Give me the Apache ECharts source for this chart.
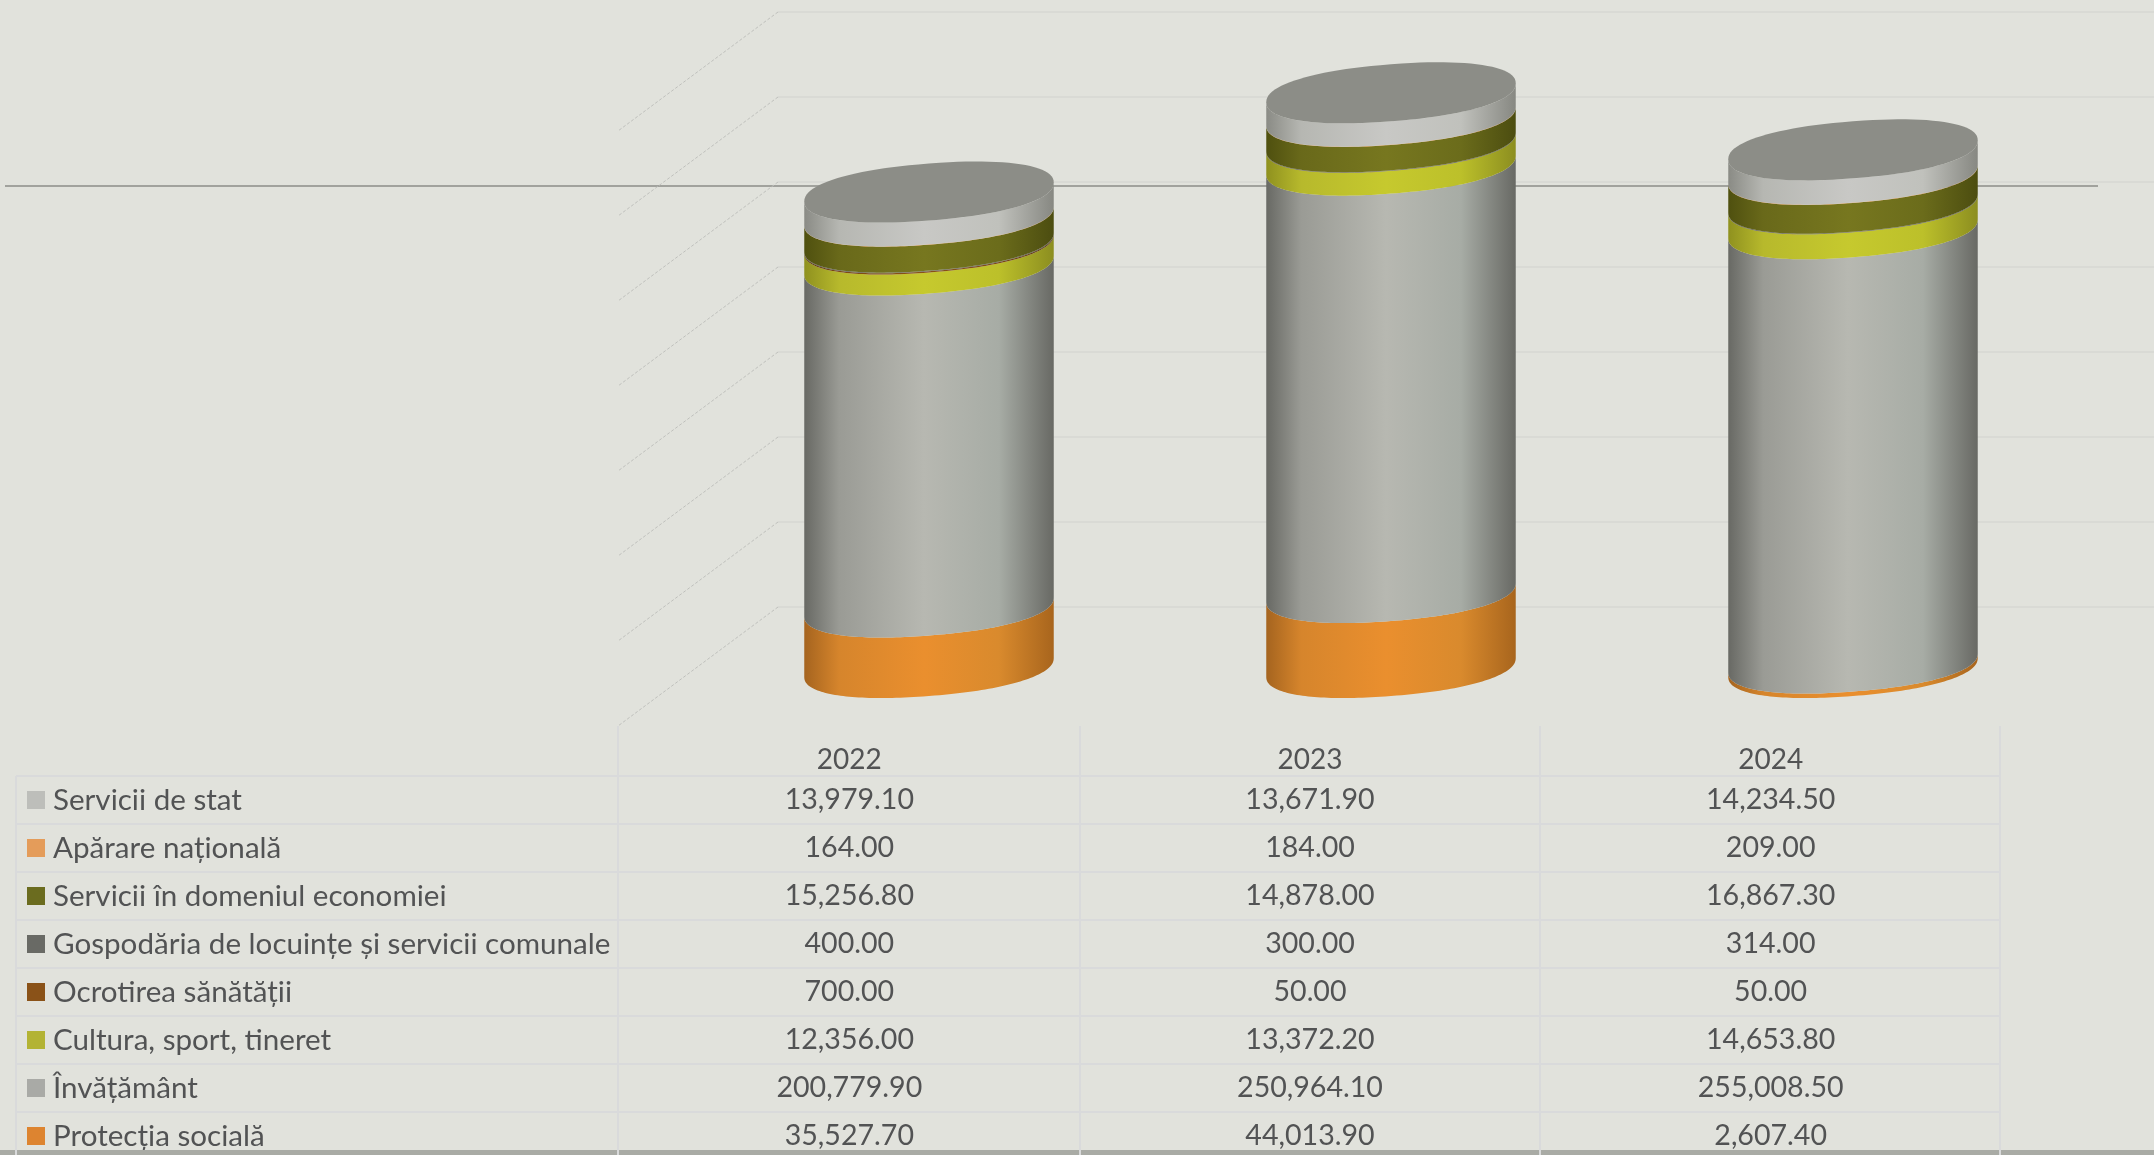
<!DOCTYPE html>
<html><head><meta charset="utf-8">
<script src="https://cdn.jsdelivr.net/npm/echarts@6/dist/echarts.min.js"></script>
<style>html,body{margin:0;padding:0;background:#E1E2DC}#c{width:2154px;height:1155px}</style>
</head><body><div id="c"></div>
<script>
const years = ['2022','2023','2024'];
const serviciiStat = [13979.10,13671.90,14234.50];
const aparare = [164,184,209];
const economie = [15256.80,14878.00,16867.30];
const gospodarie = [400,300,314];
const sanatate = [700,50,50];
const cultura = [12356.00,13372.20,14653.80];
const invatamant = [200779.90,250964.10,255008.50];
const protectie = [35527.70,44013.90,2607.40];
const rowNames = ['Servicii de stat','Apărare națională','Servicii în domeniul economiei','Gospodăria de locuințe și servicii comunale','Ocrotirea sănătății','Cultura, sport, tineret','Învățământ','Protecția socială'];
const rowValues = [serviciiStat,aparare,economie,gospodarie,sanatate,cultura,invatamant,protectie];
const swatches = ['#bdbeba','#e49c5a','#6b6c1f','#696a65','#8a5218','#b3b334','#a9aaa6','#dd8430'];
// shading per row: [edge left, mid left, centre, mid right, edge right]
const shades = [
 ['#8a8b85','#b6b7b2','#c8c8c5','#c0c1bc','#878882'],
 ['#a8692a','#d58c45','#e8a05c','#d58c45','#a8692a'],
 ['#4f500f','#69691a','#77771f','#6b6c1b','#4c4d10'],
 ['#4c4d49','#5f605b','#6b6c66','#5f605b','#4c4d49'],
 ['#5c370f','#7d4a15','#8a5218','#7d4a15','#5c370f'],
 ['#8f911f','#b7b92c','#c6c92e','#bcc02a','#8c8e20'],
 ['#686964','#9a9b95','#b7b8b1','#a7aca5','#686964'],
 ['#a5641f','#d6852c','#ea8f2e','#d98a2d','#a8651d']
];
const capColor = '#8c8d87';
const textColor = '#525354';
const ruleColor = '#d9dadb';
const fontFam = 'Lato, "Open Sans", sans-serif';
const gridTicks = [0,50000,100000,150000,200000,250000,300000,350000];

const bandRatio = 0.27, tilt = 0.076, depthB = 28.5, roundness = 0.9;

function soft(v){ return Math.sign(v)*Math.pow(Math.abs(v),roundness); }
function arc(cx, cy, a, from, to){
  const pts = [], n = 96;
  for(let i=0;i<=n;i++){
    const t = from + (to-from)*i/n;
    const dx = a*soft(Math.cos(t));
    pts.push([cx+dx, cy - tilt*dx + depthB*soft(Math.sin(t))]);
  }
  return pts;
}
function gradient(c){
  return {type:'linear',x:0,y:0,x2:1,y2:0,colorStops:[
    {offset:0,color:c[0]},{offset:0.14,color:c[1]},{offset:0.48,color:c[2]},
    {offset:0.78,color:c[3]},{offset:1,color:c[4]}]};
}
const series = [];
// depth lines of the back wall floor/side
series.push({type:'custom',name:'depth',xAxisIndex:0,yAxisIndex:0,silent:true,z:1,
  data:gridTicks.map(v=>[0,v]),
  renderItem(params,api){
    const y = api.coord([0,api.value(1)])[1];
    const x = params.coordSys.x;
    return {type:'line',shape:{x1:x,y1:y,x2:x-160,y2:y+119},
      style:{stroke:'#bfc0bc',lineWidth:1,lineDash:[3,2]}};
  }});
// cylinders, bottom segment first
for(let r=rowNames.length-1;r>=0;r--){
  const data = years.map((y,i)=>{
    let base=0; for(let k=rowNames.length-1;k>r;k--) base+=rowValues[k][i];
    return [i,base,base+rowValues[r][i]];
  });
  const isTop = r===0;
  series.push({type:'custom',name:rowNames[r],xAxisIndex:1,yAxisIndex:1,z:3,silent:true,
    encode:{x:0,y:[1,2]},data,
    renderItem(params,api){
      const i = api.value(0);
      const p0 = api.coord([i,api.value(1)]);
      const p1 = api.coord([i,api.value(2)]);
      const a = api.size([1,0])[0]*bandRatio;
      const lower = arc(p0[0],p0[1],a,Math.PI,0);
      const upper = arc(p1[0],p1[1],a,0,Math.PI);
      const children = [{type:'polygon',shape:{points:lower.concat(upper)},
        style:{fill:gradient(shades[r])}}];
      if(isTop){
        children.push({type:'polygon',shape:{points:arc(p1[0],p1[1],a,0,Math.PI*2)},
          style:{fill:capColor}});
      }
      return {type:'group',children};
    }});
}
// table values
const cells=[]; rowValues.forEach((vals,r)=>vals.forEach((v,c)=>cells.push([c,r])));
const cellText=[]; rowValues.forEach(vals=>vals.forEach(v=>cellText.push(v.toLocaleString('en-US',{minimumFractionDigits:2,maximumFractionDigits:2}))));
series.push({type:'custom',name:'table',xAxisIndex:2,yAxisIndex:2,z:5,silent:true,data:cells,
  renderItem(params,api){
    const p = api.coord([api.value(0),api.value(1)]);
    return {type:'text',x:p[0],y:p[1],style:{text:cellText[params.dataIndex],align:'center',verticalAlign:'middle',
      fill:textColor,font:'28.6px '+fontFam}};
  }});

const rich = {t:{color:textColor,fontSize:29.6,fontFamily:fontFam,padding:[0,0,0,8]}};
swatches.forEach((c,i)=>{rich['s'+i]={width:18,height:18,backgroundColor:c}});

const rowTop = 776, rowH = 48;
const graphics = [
  {type:'line',z:0,shape:{x1:5,y1:186,x2:2098,y2:186},style:{stroke:'#8b8d88',lineWidth:1.5}},
  {type:'rect',z:6,shape:{x:0,y:1150,width:2154,height:5},style:{fill:'#a9aba5'}}
];
for(let k=0;k<8;k++){
  graphics.push({type:'line',z:6,shape:{x1:16,y1:rowTop+k*rowH,x2:2000,y2:rowTop+k*rowH},style:{stroke:ruleColor,lineWidth:2}});
}
[618,1080,1540,2000].forEach(x=>graphics.push({type:'line',z:6,shape:{x1:x,y1:726,x2:x,y2:1155},style:{stroke:ruleColor,lineWidth:2}}));
graphics.push({type:'line',z:6,shape:{x1:16,y1:776,x2:16,y2:1155},style:{stroke:ruleColor,lineWidth:2}});

const option = {
  backgroundColor:'#E1E2DC',
  animation:false,
  grid:[
    {left:778,right:0,top:12,bottom:548,outerBoundsMode:'none'},
    {left:698,width:1386,top:71.4,height:596.1,outerBoundsMode:'none'},
    {left:619,width:1382,top:776,height:384,outerBoundsMode:'none'}
  ],
  xAxis:[
    {gridIndex:0,type:'category',data:years,show:false},
    {gridIndex:1,type:'category',data:years,show:false},
    {gridIndex:2,type:'category',data:years,position:'top',axisLine:{show:false},axisTick:{show:false},
      axisLabel:{color:textColor,fontSize:28,fontFamily:fontFam,margin:2,interval:0}}
  ],
  yAxis:[
    {gridIndex:0,type:'value',min:0,max:350000,interval:50000,axisLine:{show:false},axisTick:{show:false},axisLabel:{show:false},
      splitLine:{show:true,lineStyle:{color:'#d6d7d3',width:1.5}}},
    {gridIndex:1,type:'value',min:0,max:350000,show:false,splitLine:{show:false}},
    {gridIndex:2,type:'category',inverse:true,data:rowNames,axisLine:{show:false},axisTick:{show:false},
      axisLabel:{margin:592,align:'left',interval:0,rich,
        formatter:(v,i)=>`{s${i}|}{t|${v}}`}}
  ],
  graphic:graphics,
  series
};
const chart = echarts.init(document.getElementById('c'),null,{renderer:'canvas'});
chart.setOption(option);
</script></body></html>
